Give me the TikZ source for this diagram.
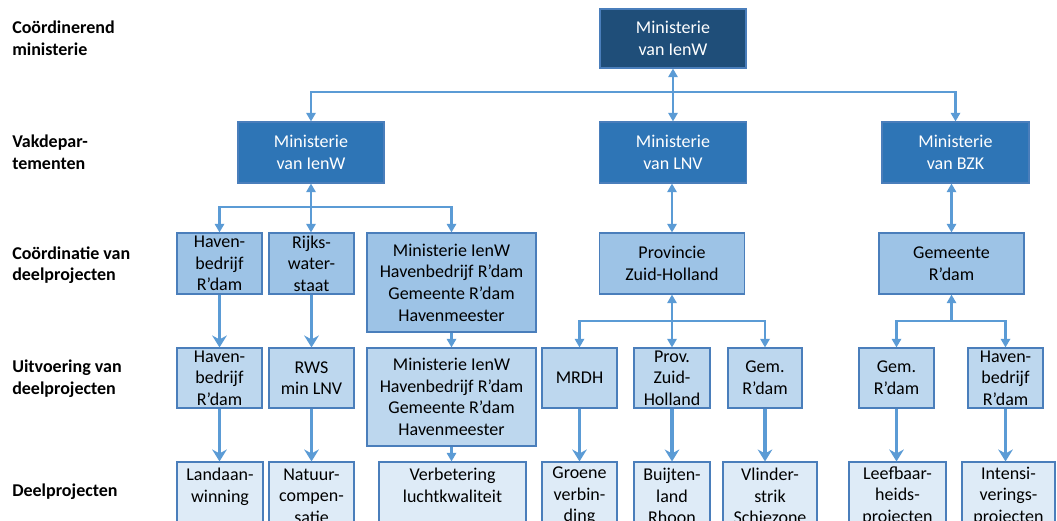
\documentclass[tikz,border=0pt]{standalone}
\usepackage{fontspec}
\setmainfont{Carlito}
\usetikzlibrary{arrows.meta}
\definecolor{c1}{HTML}{1F4E79}
\definecolor{c2}{HTML}{2E75B6}
\definecolor{c3}{HTML}{9DC3E6}
\definecolor{c4}{HTML}{BDD7EE}
\definecolor{c5}{HTML}{DEEBF7}
\definecolor{bord}{HTML}{4A7EBB}
\definecolor{lin}{HTML}{5B9BD5}
\tikzset{
  bw/.style={minimum width=#1*0.75pt},
  bh/.style={minimum height=#1*0.75pt},
  box/.style={draw=bord, line width=0.8pt, inner sep=0pt, align=center,
    font=\fontsize{13.5}{16.2}\selectfont},
  b1/.style={box, fill=c1, text=white},
  b2/.style={box, fill=c2, text=white},
  b3/.style={box, fill=c3, text=black},
  b4/.style={box, fill=c4, text=black},
  b5/.style={box, fill=c5, text=black, bh=68},
  lab/.style={anchor=west, align=left, inner sep=0pt,
    font=\fontsize{13.5}{16.2}\selectfont\bfseries},
  conn/.style={draw=lin, line width=2pt},
  sa/.style={conn, -{Triangle[width=7pt,length=6.5pt]}},
  sab/.style={conn, {Triangle[width=7pt,length=6.5pt]}-},
  ba/.style={conn, line width=2.4pt, -{Stealth[width=11pt,length=9pt,inset=3pt]}},
}
\begin{document}
\begin{tikzpicture}[x=0.75pt,y=-0.75pt]
\useasboundingbox (0,0) rectangle (1057,521);
\clip (0,0) rectangle (1057,521);
% level labels
\node[lab] (L1) at (12,38) {Coördinerend\\ministerie};
\node[lab] (L2) at (12,152.5) {Vakdepar-\\tementen};
\node[lab] (L3) at (12,265) {Coördinatie van\\deelprojecten};
\node[lab] (L4) at (12,379) {Uitvoering van\\deelprojecten};
\node[lab] (L5) at (12,492) {Deelprojecten};
% level 1
\node[b1,bw=146,bh=59] (top) at (673,38.5) {Ministerie\\van IenW};
% level 2
\node[b2,bw=146,bh=61] (ienw) at (311,152.5) {Ministerie\\van IenW};
\node[b2,bw=147,bh=61] (lnv) at (673,152.5) {Ministerie\\van LNV};
\node[b2,bw=147,bh=61] (bzk) at (955.5,152.5) {Ministerie\\van BZK};
% level 3
\node[b3,bw=85,bh=61] (h3) at (219.5,263.5) {Haven-\\bedrijf\\R’dam};
\node[b3,bw=85,bh=61] (r3) at (311.5,263.5) {Rijks-\\water-\\staat};
\node[b3,bw=169,bh=99] (m3) at (451.5,282.5) {Ministerie IenW\\Havenbedrijf R’dam\\Gemeente R’dam\\Havenmeester};
\node[b3,bw=145,bh=61] (p3) at (672,263.5) {Provincie\\Zuid-Holland};
\node[b3,bw=145,bh=61] (g3) at (951.5,263.5) {Gemeente\\R’dam};
% level 4
\node[b4,bw=85,bh=60] (h4) at (219.5,378) {Haven-\\bedrijf\\R’dam};
\node[b4,bw=85,bh=60] (r4) at (311.5,378) {RWS\\min LNV};
\node[b4,bw=169,bh=98] (m4) at (451.5,397) {Ministerie IenW\\Havenbedrijf R’dam\\Gemeente R’dam\\Havenmeester};
\node[b4,bw=75,bh=60] (mr4) at (579.5,378) {MRDH};
\node[b4,bw=76,bh=60] (pz4) at (672,378) {Prov.\\Zuid-\\Holland};
\node[b4,bw=74,bh=60] (gr4) at (765,378) {Gem.\\R’dam};
\node[b4,bw=75,bh=60] (gb4) at (896.5,378) {Gem.\\R’dam};
\node[b4,bw=75,bh=60] (hb4) at (1005.5,378) {Haven-\\bedrijf\\R’dam};
% level 5
\node[b5,bw=86] (l5) at (220,496) {Landaan-\\winning\\\mbox{}};
\node[b5,bw=85] (n5) at (311.5,496) {Natuur-\\compen-\\satie};
\node[b5,bw=147] (v5) at (452.5,496) {Verbetering\\luchtkwaliteit\\\mbox{}};
\node[b5,bw=75] (gv5) at (579.5,496) {Groene\\verbin-\\ding};
\node[b5,bw=76] (b5n) at (672,496) {Buijten-\\land\\Rhoon};
\node[b5,bw=94] (vs5) at (770,496) {Vlinder-\\strik\\Schiezone};
\node[b5,bw=97] (lf5) at (897.5,496) {Leefbaar-\\heids-\\projecten};
\node[b5,bw=93] (i5) at (1008.5,496) {Intensi-\\verings-\\projecten};
% helper coordinates
\coordinate (hA) at (0,92);
\coordinate (hB) at (0,207);
\coordinate (hC) at (0,321);
% level 1 -> 2
\draw[sab] (top.south) -- (top.south |- hA);
\draw[sa] (top.south |- hA) -- (lnv.north);
\draw[sa] (top.south |- hA) -| (ienw.north);
\draw[sa] (top.south |- hA) -| (bzk.north);
% level 2 -> 3
\draw[sab] (ienw.south) -- (ienw.south |- hB);
\draw[sa] (ienw.south |- hB) -| (h3.north);
\draw[sa] (ienw.south |- hB) -- (ienw.south |- r3.north);
\draw[sa] (ienw.south |- hB) -| (m3.north);
\draw[sab] (lnv.south -| p3.north) -- (p3.north |- hB);
\draw[sa] (p3.north |- hB) -- (p3.north);
\draw[sab] (bzk.south -| g3.north) -- (g3.north |- hB);
\draw[sa] (g3.north |- hB) -- (g3.north);
% level 3 -> 4
\draw[ba] (h3.south) -- (h4.north);
\draw[ba] (r3.south) -- (r4.north);
\draw[sa] (m3.south) -- (m4.north);
\draw[sab] (p3.south) -- (p3.south |- hC);
\draw[sa] (p3.south |- hC) -| (mr4.north);
\draw[sa] (p3.south |- hC) -- (pz4.north);
\draw[sa] (p3.south |- hC) -| (gr4.north);
\draw[sab] (g3.south) -- (g3.south |- hC);
\draw[sa] (g3.south |- hC) -| (gb4.north);
\draw[sa] (g3.south |- hC) -| (hb4.north);
% level 4 -> 5
\draw[ba] (h4.south) -- (h4.south |- l5.north);
\draw[ba] (r4.south) -- (r4.south |- n5.north);
\draw[sa] (m4.south) -- (m4.south |- v5.north);
\draw[ba] (mr4.south) -- (mr4.south |- gv5.north);
\draw[ba] (pz4.south) -- (pz4.south |- b5n.north);
\draw[ba] (gr4.south) -- (gr4.south |- vs5.north);
\draw[ba] (gb4.south) -- (gb4.south |- lf5.north);
\draw[ba] (hb4.south) -- (hb4.south |- i5.north);
\end{tikzpicture}
\end{document}
